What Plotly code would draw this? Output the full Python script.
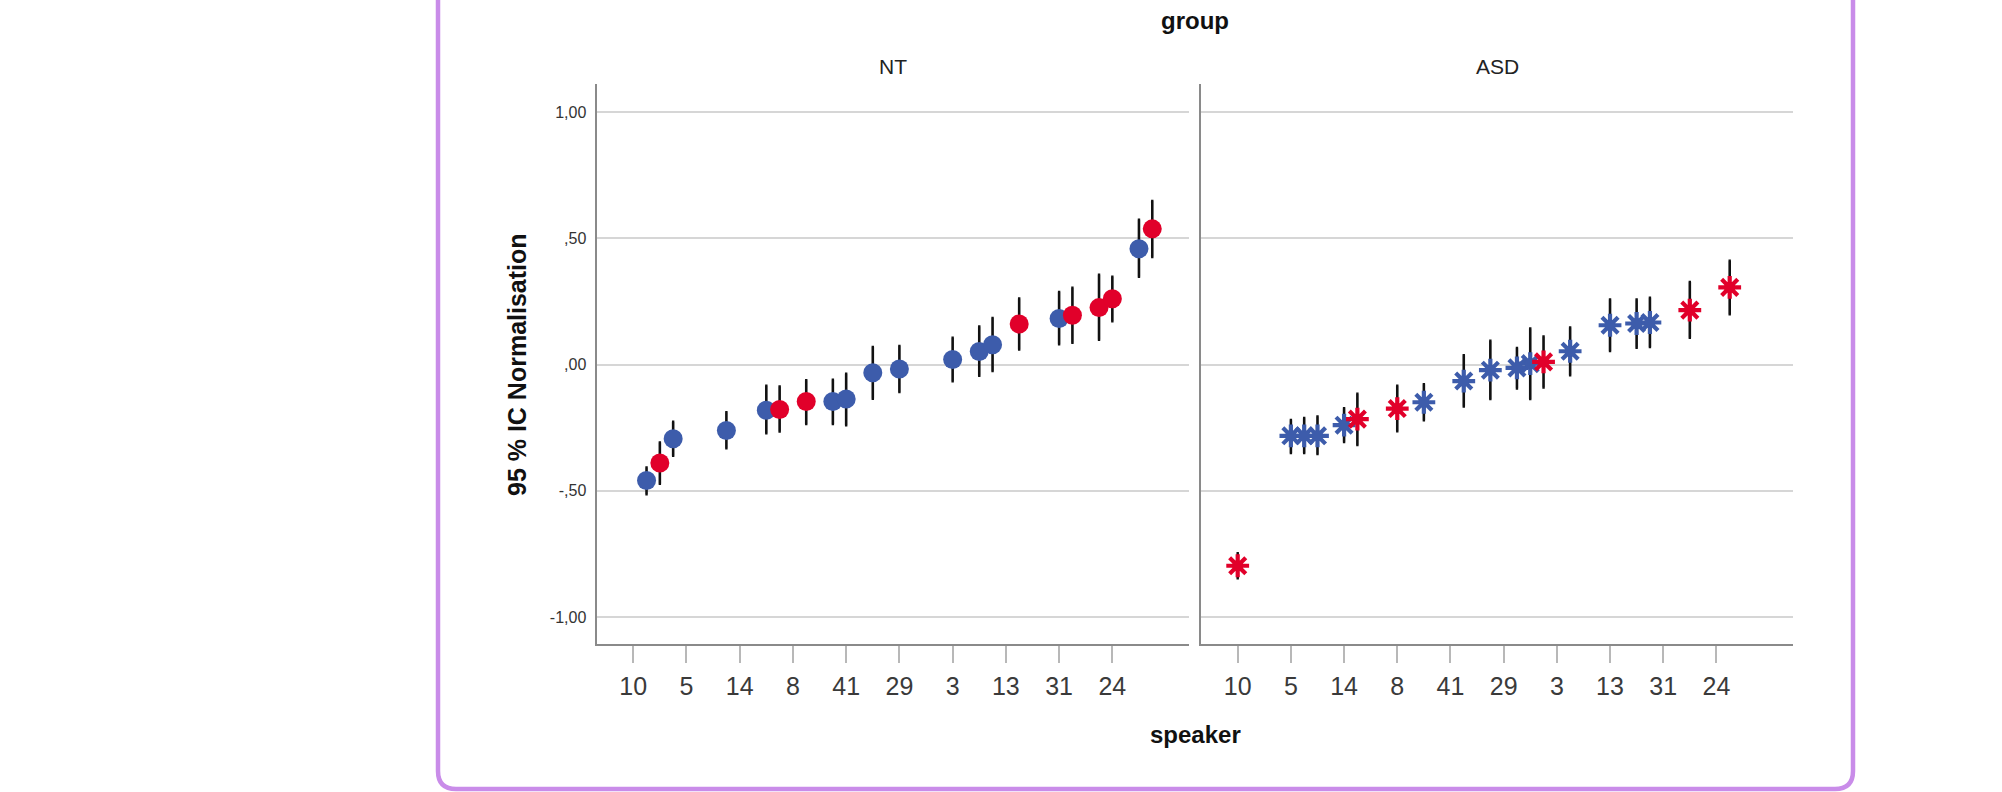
import plotly.graph_objects as go

W, H = 2002, 792

# ---------------- data ----------------
tick_labels = ["10", "5", "14", "8", "41", "29", "3", "13", "31", "24"]
y_tick_vals = [1.0, 0.5, 0.0, -0.5, -1.0]
y_tick_text = ["1,00", ",50", ",00", "-,50", "-1,00"]

nt_x = [0.25, 0.5, 0.75, 1.75, 2.5, 2.75, 3.25, 3.75, 4.0, 4.5, 5.0, 6.0, 6.5, 6.75, 7.25, 8.0, 8.25, 8.75, 9.0, 9.5, 9.75]
nt_mean = [-0.459, -0.390, -0.294, -0.261, -0.181, -0.178, -0.146, -0.146, -0.136, -0.032, -0.017, 0.020, 0.052, 0.079,
           0.161, 0.183, 0.196, 0.226, 0.261, 0.459, 0.538]
nt_lo = [-0.513, -0.472, -0.361, -0.331, -0.272, -0.265, -0.235, -0.235, -0.240, -0.135, -0.108, -0.066, -0.044, -0.025,
         0.060, 0.081, 0.087, 0.099, 0.172, 0.348, 0.427]
nt_hi = [-0.408, -0.309, -0.227, -0.189, -0.084, -0.087, -0.062, -0.060, -0.036, 0.070, 0.074, 0.106, 0.151, 0.185,
         0.262, 0.288, 0.304, 0.356, 0.348, 0.574, 0.648]
nt_col = ["b", "r", "b", "b", "b", "r", "r", "b", "b", "b", "b", "b", "b", "b", "r", "b", "r", "r", "r", "b", "r"]

asd_x = [0, 1, 1.25, 1.5, 2, 2.25, 3, 3.5, 4.25, 4.75, 5.25, 5.5, 5.75, 6.25, 7, 7.5, 7.75, 8.5, 9.25]
asd_mean = [-0.797, -0.282, -0.282, -0.282, -0.240, -0.216, -0.174, -0.149, -0.065, -0.022, -0.013, 0.004, 0.011,
            0.053, 0.156, 0.163, 0.167, 0.216, 0.306]
asd_lo = [-0.846, -0.350, -0.350, -0.354, -0.306, -0.318, -0.264, -0.220, -0.166, -0.136, -0.094, -0.136, -0.090,
          -0.042, 0.054, 0.067, 0.070, 0.107, 0.200]
asd_hi = [-0.748, -0.220, -0.212, -0.206, -0.173, -0.116, -0.084, -0.078, 0.037, 0.094, 0.066, 0.143, 0.111,
          0.147, 0.258, 0.258, 0.265, 0.327, 0.411]
asd_col = ["r", "b", "b", "b", "b", "r", "r", "b", "b", "b", "b", "b", "r", "b", "b", "b", "b", "r", "r"]

COLORS = {"b": "#3D5CAB", "r": "#E1002A"}

# ---------------- figure ----------------
fig = go.Figure()


def subset(xs, ms, lo, hi, cols, key):
    idx = [i for i, c in enumerate(cols) if c == key]
    x = [xs[i] for i in idx]
    m = [ms[i] for i in idx]
    plus = [hi[i] - ms[i] for i in idx]
    minus = [ms[i] - lo[i] for i in idx]
    return x, m, plus, minus


ebar = dict(type="data", symmetric=False, color="#111111", thickness=2.6, width=1.2)

for key in ["b", "r"]:
    x, m, plus, minus = subset(nt_x, nt_mean, nt_lo, nt_hi, nt_col, key)
    fig.add_trace(go.Scatter(
        x=x, y=m, mode="markers", xaxis="x", yaxis="y",
        marker=dict(symbol="circle", size=19, color=COLORS[key], line=dict(width=0)),
        error_y=dict(ebar, array=plus, arrayminus=minus),
        showlegend=False, hoverinfo="skip"))

for key in ["b", "r"]:
    x, m, plus, minus = subset(asd_x, asd_mean, asd_lo, asd_hi, asd_col, key)
    fig.add_trace(go.Scatter(
        x=x, y=m, mode="markers", xaxis="x2", yaxis="y2",
        marker=dict(symbol="asterisk-open", size=19, color=COLORS[key],
                    line=dict(width=4.2, color=COLORS[key])),
        error_y=dict(ebar, array=plus, arrayminus=minus),
        showlegend=False, hoverinfo="skip"))
    fig.add_trace(go.Scatter(
        x=x, y=m, mode="markers", xaxis="x2", yaxis="y2",
        marker=dict(symbol="circle", size=11, color=COLORS[key], line=dict(width=0)),
        showlegend=False, hoverinfo="skip"))

ydom = [(H - 644) / H, (H - 84) / H]
xr = [-0.69, 10.44]
yr = [-1.107, 1.112]

xaxis_common = dict(
    range=xr, tickmode="array", tickvals=list(range(len(tick_labels))), ticktext=tick_labels,
    ticks="outside", ticklen=17, tickwidth=2, tickcolor="#b8b8b8",
    showline=True, linecolor="#8a8a8a", linewidth=2, mirror=False,
    showgrid=False, zeroline=False, ticklabelstandoff=2,
    tickfont=dict(family="Liberation Sans Narrow, Arial Narrow, Liberation Sans", size=25, color="#3a3a3a"),
)
yaxis_common = dict(
    range=yr, tickmode="array", tickvals=y_tick_vals, ticktext=y_tick_text,
    ticks="", showline=True, linecolor="#8a8a8a", linewidth=2, mirror=False,
    showgrid=True, gridcolor="#d6d6d6", gridwidth=2, zeroline=False,
    domain=ydom,
)

fig.update_layout(
    width=W, height=H, margin=dict(l=0, r=0, t=0, b=0),
    paper_bgcolor="white", plot_bgcolor="white",
    showlegend=False,
    xaxis=dict(xaxis_common, domain=[596.5 / W, 1189 / W], anchor="y"),
    xaxis2=dict(xaxis_common, domain=[1201 / W, 1793 / W], anchor="y2"),
    yaxis=dict(yaxis_common, anchor="x", ticklabelstandoff=5,
               tickfont=dict(family="Liberation Sans", size=16, color="#333333")),
    yaxis2=dict(yaxis_common, anchor="x2", showticklabels=False),
)

title_font = dict(family="Liberation Sans", size=24, color="#111111", weight="bold")
ytitle_font = dict(family="Liberation Sans", size=25, color="#111111", weight="bold")
sub_font = dict(family="Liberation Sans Narrow, Arial Narrow, Liberation Sans", size=21, color="#222222")


def px(xp):
    return xp / W


def py(yp):
    return 1 - yp / H


anns = [
    dict(text="group", x=px(1195), y=py(20), font=title_font),
    dict(text="speaker", x=px(1195), y=py(734), font=title_font),
    dict(text="95 % IC Normalisation", x=px(517), y=py(365), font=ytitle_font, textangle=-90),
    dict(text="NT", x=px(893), y=py(66), font=sub_font),
    dict(text="ASD", x=px(1497), y=py(66), font=sub_font),
]
for a in anns:
    fig.add_annotation(xref="paper", yref="paper", xanchor="center", yanchor="middle",
                       showarrow=False, **a)

# purple rounded frame (top edge runs off the image)
L, R, B, rad, T = 438, 1853, 789, 18, -20
path = (f"M {px(L)},{py(T)} L {px(L)},{py(B - rad)} Q {px(L)},{py(B)} {px(L + rad)},{py(B)} "
        f"L {px(R - rad)},{py(B)} Q {px(R)},{py(B)} {px(R)},{py(B - rad)} L {px(R)},{py(T)}")
fig.add_shape(type="path", xref="paper", yref="paper", path=path,
              line=dict(color="#C98CE9", width=4.5))

fig.write_html("out.html")
